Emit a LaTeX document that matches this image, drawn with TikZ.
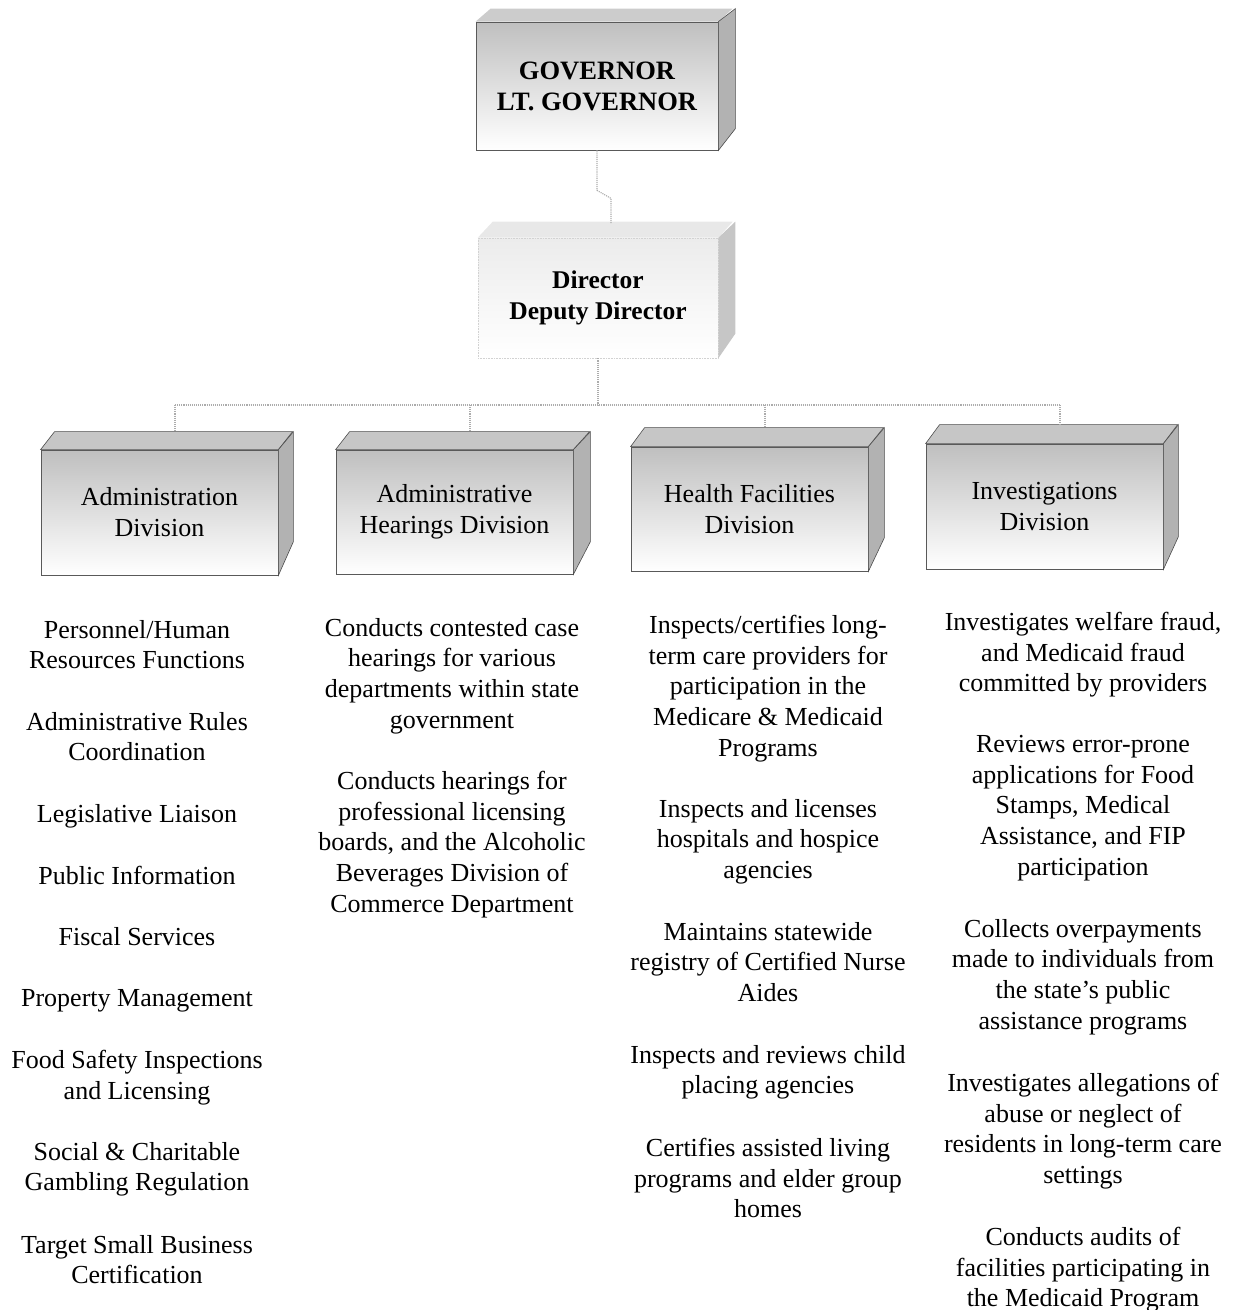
\documentclass[tikz,border=0pt]{standalone}
\usepackage{fontspec}
\setmainfont{Liberation Serif}
\begin{document}
\begin{tikzpicture}[x=1pt,y=-1pt,
  frontbox/.style={draw=gray!70!black, line width=0.8pt, top color=gray!50, middle color=white, bottom color=white, inner sep=0pt, align=center, font=\fontsize{26}{31}\selectfont},
  dirbox/.style={draw=gray!35, line width=0.6pt, densely dotted, top color=gray!15, middle color=white, bottom color=white, inner sep=0pt, align=center, font=\bfseries\fontsize{25.5}{31}\selectfont},
  govbox/.style={frontbox, font=\bfseries\fontsize{26.5}{31}\selectfont},
  topface/.style={fill=gray!45, draw=gray!60!black, line width=0.6pt},
  sideface/.style={fill=gray!60, draw=gray!60!black, line width=0.6pt},
  conn/.style={draw=gray!65, line width=1.1pt, densely dotted},
  item/.style={anchor=north, inner sep=0pt, align=center, font=\fontsize{26}{30.7}\selectfont}
]
\useasboundingbox (0,0) rectangle (1233,1310);

% ---------- Governor
\node[govbox, minimum width=242pt, minimum height=128pt] (gov) at (597,86) {GOVERNOR\\LT. GOVERNOR};
\fill[topface, draw=none, fill=gray!40] (gov.north west) -- ++(15,-13) -- ++(242,0) -- (gov.north east) -- cycle;
\fill[sideface] (gov.north east) -- ++(17,-13) -- ++(0,120) -- (gov.south east) -- cycle;

% ---------- Director
\node[dirbox, minimum width=240pt, minimum height=120pt] (dir) at (598,298) {Director\\Deputy Director};
\fill[fill=gray!18] (dir.north west) -- ++(15,-16) -- ++(240,0) -- (dir.north east) -- cycle;
\fill[fill=gray!45] (dir.north east) -- ++(17,-16) -- ++(0,112) -- (dir.south east) -- cycle;

% ---------- Divisions
\node[frontbox, minimum width=237pt, minimum height=125pt] (adm) at (159.5,512.5) {Administration\\Division};
\fill[topface] (adm.north west) -- ++(14,-18) -- ++(238,0) -- (adm.north east) -- cycle;
\fill[sideface] (adm.north east) -- ++(15,-18) -- ++(0,110) -- (adm.south east) -- cycle;

\node[frontbox, minimum width=237pt, minimum height=124pt] (hear) at (454.5,512) {Administrative\\Hearings Division};
\fill[topface] (hear.north west) -- ++(14,-18) -- ++(240,0) -- (hear.north east) -- cycle;
\fill[sideface] (hear.north east) -- ++(17,-18) -- ++(0,110) -- (hear.south east) -- cycle;

\node[frontbox, minimum width=237pt, minimum height=124pt] (hlth) at (749.5,509) {Health Facilities\\Division};
\fill[topface] (hlth.north west) -- ++(14,-19) -- ++(239,0) -- (hlth.north east) -- cycle;
\fill[sideface] (hlth.north east) -- ++(16,-19) -- ++(0,110) -- (hlth.south east) -- cycle;

\node[frontbox, minimum width=237pt, minimum height=125pt] (inv) at (1044.5,506.5) {Investigations\\Division};
\fill[topface] (inv.north west) -- ++(14,-19) -- ++(238,0) -- (inv.north east) -- cycle;
\fill[sideface] (inv.north east) -- ++(15,-19) -- ++(0,112) -- (inv.south east) -- cycle;

% ---------- Connectors
\coordinate (dirtop) at (611,223);
\coordinate (bus) at (598,405);
\coordinate (b1) at (175,405);
\coordinate (b2) at (470,405);
\coordinate (b3) at (765,405);
\coordinate (b4) at (1060,405);
\coordinate (t1) at (175,432);
\coordinate (t2) at (470,432);
\coordinate (t3) at (765,428);
\coordinate (t4) at (1060,425);
\draw[conn] (gov.south) -- ++(0,40) -- ++(14,8) -- (dirtop);
\draw[conn] (dir.south) -- (bus);
\draw[conn] (b1) -- (b4);
\draw[conn] (b1) -- (t1);
\draw[conn] (b2) -- (t2);
\draw[conn] (b3) -- (t3);
\draw[conn] (b4) -- (t4);

% ---------- Administration items
\node[item] (a1) at (137,620) {Personnel/Human\\Resources Functions};
\node[item] (a2) at (137,712) {Administrative Rules\\Coordination};
\node[item] (a3) at (137,804) {Legislative Liaison};
\node[item] (a4) at (137,866) {Public Information};
\node[item] (a5) at (137,927) {Fiscal Services};
\node[item] (a6) at (137,989) {Property Management};
\node[item] (a7) at (137,1050) {Food Safety Inspections\\and Licensing};
\node[item] (a8) at (137,1142) {Social \& Charitable\\Gambling Regulation};
\node[item] (a9) at (137,1235) {Target Small Business\\Certification};

% ---------- Hearings items
\node[item] (h1) at (452,618) {Conducts contested case\\hearings for various\\departments within state\\government};
\node[item] (h2) at (452,771) {Conducts hearings for\\professional licensing\\boards, and the Alcoholic\\Beverages Division of\\Commerce Department};

% ---------- Health items
\node[item] (f1) at (768,615) {Inspects/certifies long-\\term care providers for\\participation in the\\Medicare \& Medicaid\\Programs};
\node[item] (f2) at (768,799) {Inspects and licenses\\hospitals and hospice\\agencies};
\node[item] (f3) at (768,922) {Maintains statewide\\registry of Certified Nurse\\Aides};
\node[item] (f4) at (768,1045) {Inspects and reviews child\\placing agencies};
\node[item] (f5) at (768,1138) {Certifies assisted living\\programs and elder group\\homes};

% ---------- Investigations items
\node[item] (i1) at (1083,612) {Investigates welfare fraud,\\and Medicaid fraud\\committed by providers};
\node[item] (i2) at (1083,735) {Reviews error-prone\\applications for Food\\Stamps, Medical\\Assistance, and FIP\\participation};
\node[item] (i3) at (1083,919) {Collects overpayments\\made to individuals from\\the state’s public\\assistance programs};
\node[item] (i4) at (1083,1073) {Investigates allegations of\\abuse or neglect of\\residents in long-term care\\settings};
\node[item] (i5) at (1083,1227) {Conducts audits of\\facilities participating in\\the Medicaid Program};
\end{tikzpicture}
\end{document}
